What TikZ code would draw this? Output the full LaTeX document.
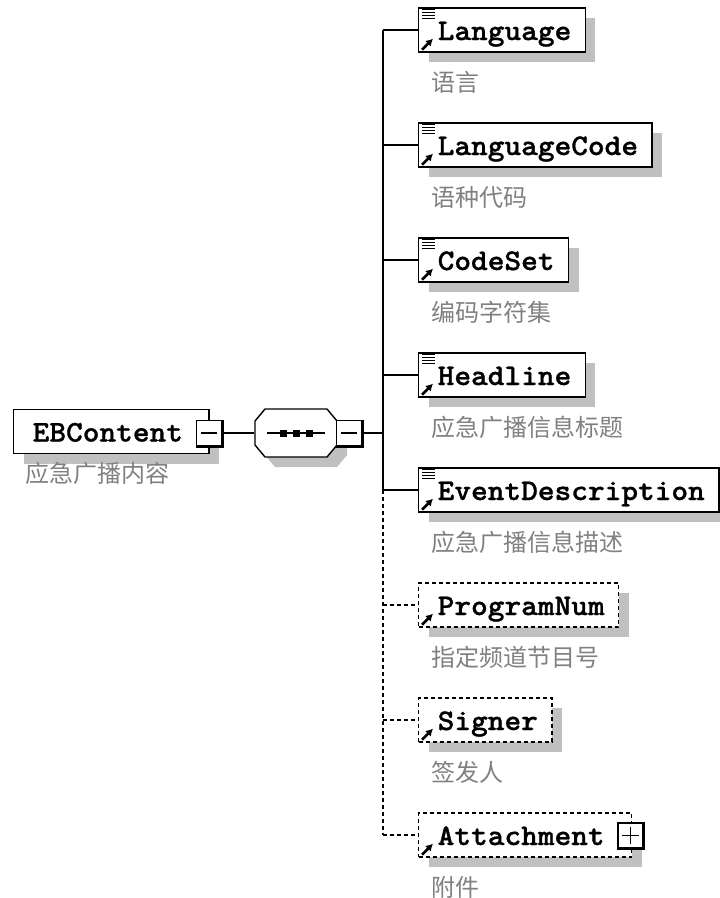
\documentclass[tikz,border=0pt]{standalone}
\usepackage{fontspec}
\usepackage{tikz}
\usetikzlibrary{shadows,arrows.meta}

\newfontfamily\boxfont[FakeStretch=1.06,FakeBold=1]{lmmonolt10-bold.otf}
\newfontfamily\cjk{Noto Sans CJK SC}
\definecolor{notegray}{RGB}{128,128,128}
\definecolor{shadowgray}{RGB}{192,192,192}
\newcommand{\boxtext}[1]{\hspace*{19pt}#1\hspace*{14pt}}

\begin{document}
\begin{tikzpicture}[x=1pt,y=-1pt,>={Latex[length=7pt,width=8pt]},line width=1.4pt,
	elem/.style={draw,fill=white,anchor=west,inner sep=0pt,minimum height=44pt,
		text height=22pt,text depth=2pt,font=\boxfont\fontsize{30pt}{30pt}\selectfont,
		drop shadow={shadow xshift=10pt,shadow yshift=-10pt,fill=shadowgray,opacity=1}},
	optelem/.style={elem,dash pattern=on 4pt off 3pt},
	note/.style={anchor=west,inner sep=0pt,text=notegray,font=\cjk\fontsize{24pt}{24pt}\selectfont},
	toggle/.style={draw,fill=white,inner sep=0pt,minimum size=25pt,line width=1.8pt}]

	\useasboundingbox (0,0) rectangle (720,898);

	% the root element and its note
	\node[elem] (EBContent) at (13,431.5) {\hspace*{19pt}EBContent\hspace*{26pt}};
	\node[note] (EBContentNote) at (25,473) {应急广播内容};
	\node[toggle] (ebminus) at (209,433) {};
	\draw ([xshift=5pt]ebminus.west) -- ([xshift=-5pt]ebminus.east);
	\draw[line width=3pt] (ebminus.north east) -- (ebminus.south east) -- (ebminus.south west);

	% the sequence compositor, an octagon with its shadow
	\node[inner sep=0pt,minimum width=82pt,minimum height=48pt] (seq) at (296,433) {};
	\fill[shadowgray] ([shift={(10,10)}]seq.center) ++(-31,-24) -- ++(62,0) -- ++(10,12) -- ++(0,24)
		-- ++(-10,12) -- ++(-62,0) -- ++(-10,-12) -- ++(0,-24) -- cycle;
	\draw[fill=white] (seq.center) ++(-31,-24) -- ++(62,0) -- ++(10,12) -- ++(0,24)
		-- ++(-10,12) -- ++(-62,0) -- ++(-10,-12) -- ++(0,-24) -- cycle;
	\draw ([xshift=-29pt]seq.center) -- ([xshift=29pt]seq.center);
	\foreach \dx in {-13,0,13}
		\fill ([xshift=\dx pt]seq.center) +(-3.5,-3.5) rectangle +(3.5,3.5);
	\node[toggle] (seqminus) at (349,433) {};
	\draw ([xshift=5pt]seqminus.west) -- ([xshift=-5pt]seqminus.east);
	\draw[line width=3pt] (seqminus.north east) -- (seqminus.south east) -- (seqminus.south west);
	\coordinate (trunk) at (383,433);

	% the child elements
	\node[elem] (Language) at (418,30) {\boxtext{Language}};
	\node[elem] (LanguageCode) at (418,145) {\boxtext{LanguageCode}};
	\node[elem] (CodeSet) at (418,260) {\boxtext{CodeSet}};
	\node[elem] (Headline) at (418,375) {\boxtext{Headline}};
	\node[elem] (EventDescription) at (418,490) {\boxtext{EventDescription}};
	\node[optelem] (ProgramNum) at (418,605) {\boxtext{ProgramNum}};
	\node[optelem] (Signer) at (418,720) {\boxtext{Signer}};
	\node[optelem] (Attachment) at (418,835) {\hspace*{19pt}Attachment\hspace*{27pt}};
	\node[toggle] (attplus) at (630.5,835.5) {};
	\draw ([xshift=5pt]attplus.west) -- ([xshift=-5pt]attplus.east);
	\draw ([yshift=-5pt]attplus.north) -- ([yshift=5pt]attplus.south);
	\draw[line width=3pt] (attplus.north east) -- (attplus.south east) -- (attplus.south west);

	% the notes under the children
	\node[note] (LanguageNote) at (431,82) {语言};
	\node[note] (LanguageCodeNote) at (431,197) {语种代码};
	\node[note] (CodeSetNote) at (431,312) {编码字符集};
	\node[note] (HeadlineNote) at (431,427) {应急广播信息标题};
	\node[note] (EventDescriptionNote) at (431,542) {应急广播信息描述};
	\node[note] (ProgramNumNote) at (431,657) {指定频道节目号};
	\node[note] (SignerNote) at (431,772) {签发人};
	\node[note] (AttachmentNote) at (431,887) {附件};

	% the connectors
	\draw (ebminus.east) -- (ebminus.east -| seq.west);
	\draw (seqminus.east) -- (trunk);
	\draw (trunk |- Language.west) -- (trunk |- EventDescription.west);
	\draw[dash pattern=on 4pt off 3pt] (trunk |- EventDescription.west) -- (trunk |- Attachment.west);
	\foreach \n in {Language,LanguageCode,CodeSet,Headline,EventDescription}
		\draw (trunk |- \n.west) -- (\n.west);
	\foreach \n in {ProgramNum,Signer,Attachment}
		\draw[dash pattern=on 4pt off 3pt] (trunk |- \n.west) -- (\n.west);

	% the small icons in the boxes
	\foreach \n in {Language,LanguageCode,CodeSet,Headline,EventDescription}
		\foreach \dy in {2,5,8,11}
			\draw[line width=1.4pt] ([shift={(4,\dy)}]\n.north west) -- ++(13,0);
	\foreach \n in {Language,LanguageCode,CodeSet,Headline,EventDescription,ProgramNum,Signer,Attachment}
		\draw[line width=2.6pt,->] ([shift={(4,-3)}]\n.south west) -- ++(11,-11);

\end{tikzpicture}
\end{document}
